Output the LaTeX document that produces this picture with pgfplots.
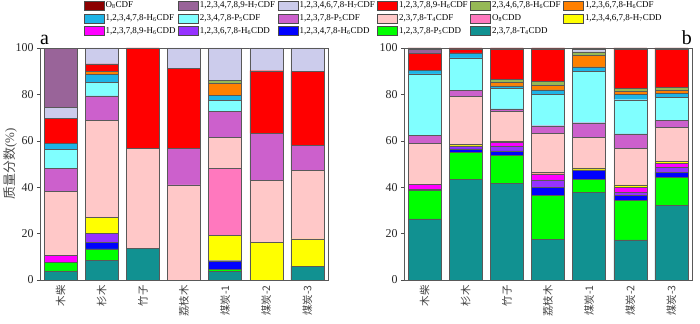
\documentclass[border=0pt]{standalone}
\usepackage{fontspec}
\setmainfont{Liberation Serif}
\newfontfamily\cjk{Noto Sans CJK SC}
\usepackage{pgfplots}
\usepackage{pgfplotstable}
\pgfplotsset{compat=1.18}

% colours, bottom of stack (1) to top (17)
\definecolor{col1}{RGB}{17,145,145}   % 2,3,7,8-T4CDD
\definecolor{col2}{RGB}{0,255,0}      % 1,2,3,7,8-P5CDD
\definecolor{col3}{RGB}{0,0,255}      % 1,2,3,4,7,8-H6CDD
\definecolor{col4}{RGB}{150,50,255}   % 1,2,3,6,7,8-H6CDD
\definecolor{col5}{RGB}{255,0,255}    % 1,2,3,7,8,9-H6CDD
\definecolor{col6}{RGB}{255,255,0}    % 1,2,3,4,6,7,8-H7CDD
\definecolor{col7}{RGB}{255,120,190}  % O8CDD
\definecolor{col8}{RGB}{255,200,200}  % 2,3,7,8-T4CDF
\definecolor{col9}{RGB}{204,96,204}   % 1,2,3,7,8-P5CDF
\definecolor{col10}{RGB}{128,255,255} % 2,3,4,7,8-P5CDF
\definecolor{col11}{RGB}{30,180,230}  % 1,2,3,4,7,8-H6CDF
\definecolor{col12}{RGB}{255,128,0}   % 1,2,3,6,7,8-H6CDF
\definecolor{col13}{RGB}{150,185,85}  % 2,3,4,6,7,8-H6CDF
\definecolor{col14}{RGB}{255,0,0}     % 1,2,3,7,8,9-H6CDF
\definecolor{col15}{RGB}{204,204,236} % 1,2,3,4,6,7,8-H7CDF
\definecolor{col16}{RGB}{153,100,153} % 1,2,3,4,7,8,9-H7CDF
\definecolor{col17}{RGB}{140,0,0}     % O8CDF

\pgfplotstableread{
x  c1   c2   c3  c4  c5  c6   c7   c8   c9   c10  c11 c12 c13 c14  c15  c16  c17
0  3.9  3.7  0   0   3.2 0    0    27.3 10.1 8.2  2.4 0   0   11.0 4.6  25.6 0
1  8.6  4.8  2.9 3.8 0   7.0  0    41.7 10.6 5.8  3.3 1.3 0   3.4  6.8  0    0
2  13.7 0    0   0   0   0    0    43.1 0    0    0   0   0   43.2 0    0    0
3  0    0    0   0   0   0    0    41.0 15.8 0    0   0   0   34.3 8.9  0    0
4  3.6  1.1  3.6 0   0   10.8 29.0 13.3 11.3 4.7  2.2 5.1 1.6 0    13.7 0    0
5  0    0    0   0   0   16.3 0    26.6 20.4 0    0   0   0   26.9 9.8  0    0
6  6.0  0    0   0   0   11.7 0    29.5 10.8 0    0   0   0   31.9 10.1 0    0
}\tabA

\pgfplotstableread{
x  c1   c2   c3  c4  c5  c6  c7 c8   c9  c10  c11 c12 c13 c14  c15 c16 c17
0  26.3 12.4 0.3 0   2.3 0   0  17.7 3.3 26.6 1.5 0   0   7.4  0   1.8 0.4
1  43.5 11.6 1.4 1.3 0   0.7 0  20.6 2.5 14.1 2.2 0   0   1.7  0   0   0.4
2  41.7 12.0 2.0 2.1 1.5 0.7 0  12.7 1.1 8.9  1.0 1.6 1.3 13.0 0   0   0.4
3  17.6 18.9 3.4 3.3 2.6 0.7 0  16.8 3.2 13.6 1.9 1.9 1.7 14.0 0   0   0.4
4  37.7 5.8  4.0 0   0   0.8 0  13.3 6.2 22.0 2.1 4.9 1.5 0    1.0 0   0.7
5  17.3 16.9 2.2 1.4 2.1 1.1 0  15.8 6.2 14.7 2.2 1.4 1.4 16.6 0   0   0.7
6  32.1 12.2 2.2 2.0 1.9 0.7 0  14.8 2.9 10.0 1.6 1.2 1.3 16.4 0   0   0.7
}\tabB

\pgfplotsset{
  lgbox/.style={legend image code/.code={\draw[##1,draw=black!70,line width=0.4bp] (0bp,-4.5bp) rectangle (20bp,4.5bp);}},
  panel/.style={
    ybar stacked,
    scale only axis,
    clip mode=individual,
    width=288bp, height=232bp,
    bar width=33bp,
    xmin=-0.5, xmax=6.5,
    ymin=0, ymax=100,
    xtick={0,...,6},
    xticklabels={木柴,杉木,竹子,荔枝木,煤炭-1,煤炭-2,煤炭-3},
    xticklabel style={rotate=90, anchor=east, font=\cjk\fontsize{10.5}{11}\selectfont, text=black!75, inner sep=2bp},
    x tick style={draw=none},
    ytick={0,20,...,100},
    ytick pos=left,
    tick align=outside,
    major tick length=3bp,
    y tick style={black!70},
    yticklabel style={font=\fontsize{12}{12}\selectfont, text=black!85},
    /pgf/number format/assume math mode=true,
    axis line style={black!65},
    every axis plot/.append style={draw=black!65, line width=0.4bp},
  },
}

\begin{document}
\begin{tikzpicture}
\path[use as bounding box] (0,0) rectangle (700bp,324bp);

\begin{axis}[panel,
  at={(40bp,44bp)}, anchor=south west,
  ylabel={{\cjk 质量分数}(\%)},
  ylabel style={at={(rel axis cs:-0.104,0.5)}, anchor=center, font=\fontsize{13}{13}\selectfont, text=black!70},
  legend columns=6,
  legend cell align=left,
  legend style={at={(0.151,1.207)}, anchor=north west, draw=none, fill=none,
    font=\fontsize{9}{10}\selectfont, inner sep=0pt,
    nodes={inner sep=1.5bp}, row sep=2.4bp,
    /tikz/every even column/.append style={column sep=1bp}},
]
\addlegendimage{lgbox, fill=col17}
\addlegendimage{lgbox, fill=col16}
\addlegendimage{lgbox, fill=col15}
\addlegendimage{lgbox, fill=col14}
\addlegendimage{lgbox, fill=col13}
\addlegendimage{lgbox, fill=col12}
\addlegendimage{lgbox, fill=col11}
\addlegendimage{lgbox, fill=col10}
\addlegendimage{lgbox, fill=col9}
\addlegendimage{lgbox, fill=col8}
\addlegendimage{lgbox, fill=col7}
\addlegendimage{lgbox, fill=col6}
\addlegendimage{lgbox, fill=col5}
\addlegendimage{lgbox, fill=col4}
\addlegendimage{lgbox, fill=col3}
\addlegendimage{lgbox, fill=col2}
\addlegendimage{lgbox, fill=col1}
\legend{
  {O\textsubscript{8}CDF},
  {1,2,3,4,7,8,9-H\textsubscript{7}CDF},
  {1,2,3,4,6,7,8-H\textsubscript{7}CDF},
  {1,2,3,7,8,9-H\textsubscript{6}CDF},
  {2,3,4,6,7,8-H\textsubscript{6}CDF},
  {1,2,3,6,7,8-H\textsubscript{6}CDF},
  {1,2,3,4,7,8-H\textsubscript{6}CDF},
  {2,3,4,7,8-P\textsubscript{5}CDF},
  {1,2,3,7,8-P\textsubscript{5}CDF},
  {2,3,7,8-T\textsubscript{4}CDF},
  {O\textsubscript{8}CDD},
  {1,2,3,4,6,7,8-H\textsubscript{7}CDD},
  {1,2,3,7,8,9-H\textsubscript{6}CDD},
  {1,2,3,6,7,8-H\textsubscript{6}CDD},
  {1,2,3,4,7,8-H\textsubscript{6}CDD},
  {1,2,3,7,8-P\textsubscript{5}CDD},
  {2,3,7,8-T\textsubscript{4}CDD}}
\pgfplotsinvokeforeach{1,...,17}{
  \addplot[fill=col#1] table[x=x, y=c#1] {\tabA};
}
\node[anchor=south west, inner sep=0pt, font=\fontsize{20}{20}\selectfont, yshift=3bp] at (rel axis cs:0,1) {a};
\end{axis}

\begin{axis}[panel,
  at={(404bp,44bp)}, anchor=south west,
]
\pgfplotsinvokeforeach{1,...,17}{
  \addplot[fill=col#1] table[x=x, y=c#1] {\tabB};
}
\node[anchor=south east, inner sep=0pt, font=\fontsize{20}{20}\selectfont, yshift=3bp] at (rel axis cs:1,1) {b};
\end{axis}
\end{tikzpicture}
\end{document}
